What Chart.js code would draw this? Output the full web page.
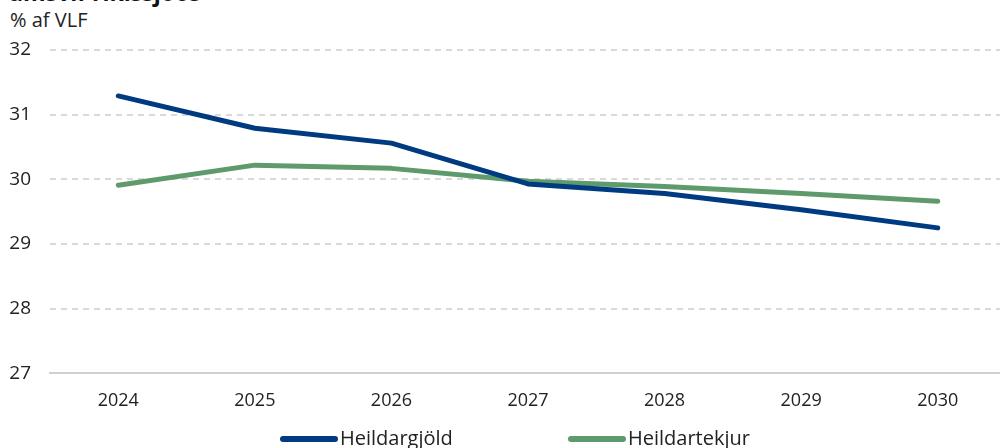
<!DOCTYPE html>
<html>
<head>
<meta charset="utf-8">
<script src="https://cdn.jsdelivr.net/npm/chart.js@4/dist/chart.umd.min.js"></script>
<style>
  html, body { margin: 0; padding: 0; background: #fff; overflow: hidden; width: 1000px; height: 448px; }
  #title { position: absolute; left: 8px; top: -24px; font: bold 23px "Open Sans", sans-serif; color: #111; white-space: nowrap; }
  #unit { position: absolute; left: 10px; top: 6px; font: 20px "Open Sans", sans-serif; color: #222; }
  #wrap { position: absolute; left: 0; top: 0; width: 1006px; height: 448px; }
  .leg { position: absolute; top: 424px; font: 20px "Open Sans", sans-serif; color: #222; white-space: nowrap; line-height: 28px; }
  .leg i { display: inline-block; width: 58px; height: 6px; border-radius: 3px; vertical-align: middle; margin-right: 2px; position: relative; top: -1px; }
</style>
</head>
<body>
<div id="title">umsvif ríkissjóðs</div>
<div id="unit">% af VLF</div>
<div id="wrap"><canvas id="myLineChart"></canvas></div>
<div id="legend"></div>
<script>
var years = ['2024', '2025', '2026', '2027', '2028', '2029', '2030'];
var heildargjold = [31.29, 30.79, 30.56, 29.93, 29.78, 29.53, 29.25];
var heildartekjur = [29.91, 30.22, 30.17, 29.97, 29.89, 29.78, 29.66];
var yTicks = [27, 28, 29, 30, 31, 32];
var seriesNames = ['Heildargjöld', 'Heildartekjur'];
var seriesColors = ['#003b82', '#5f9a6c'];

var ctx = document.getElementById('myLineChart').getContext('2d');

function lineSet(i, values) {
    return {
        label: seriesNames[i],
        data: values,
        borderColor: seriesColors[i],
        backgroundColor: seriesColors[i],
        borderWidth: 5,
        pointRadius: 0,
        borderCapStyle: 'round',
        borderJoinStyle: 'round',
        tension: 0
    };
}

var myLineChart = new Chart(ctx, {
    type: 'line',
    data: {
        labels: years,
        datasets: [lineSet(0, heildargjold), lineSet(1, heildartekjur)]
    },
    options: {
        responsive: true,
        maintainAspectRatio: false,
        animation: false,
        layout: { padding: { top: 50, right: 0, left: 0, bottom: 19 } },
        plugins: {
            legend: { display: false },
            tooltip: { enabled: false }
        },
        scales: {
            x: {
                offset: true,
                grid: { display: false, drawTicks: false },
                border: { display: true, color: '#d0d0d0', width: 2 },
                ticks: {
                    color: '#222',
                    padding: 17,
                    font: { family: 'Open Sans', size: 18 }
                }
            },
            y: {
                min: 27,
                max: 32,
                afterFit: function (axis) { axis.width = 50; },
                afterBuildTicks: function (axis) {
                    axis.ticks = yTicks.map(function (v) { return { value: v }; });
                },
                grid: {
                    color: '#d9d9d9',
                    lineWidth: 2,
                    drawTicks: false
                },
                border: { display: false, dash: [6, 5] },
                ticks: {
                    color: '#222',
                    padding: 19,
                    font: { family: 'Open Sans', size: 19 }
                }
            }
        }
    }
});

// legend below the chart, kept as text
var legendLeft = [280, 568];
var legendBox = document.getElementById('legend');
seriesNames.forEach(function (name, i) {
    var item = document.createElement('div');
    item.className = 'leg';
    item.style.left = legendLeft[i] + 'px';
    item.innerHTML = '<i style="background:' + seriesColors[i] + '"></i>' + name;
    legendBox.appendChild(item);
});
</script>
</body>
</html>
